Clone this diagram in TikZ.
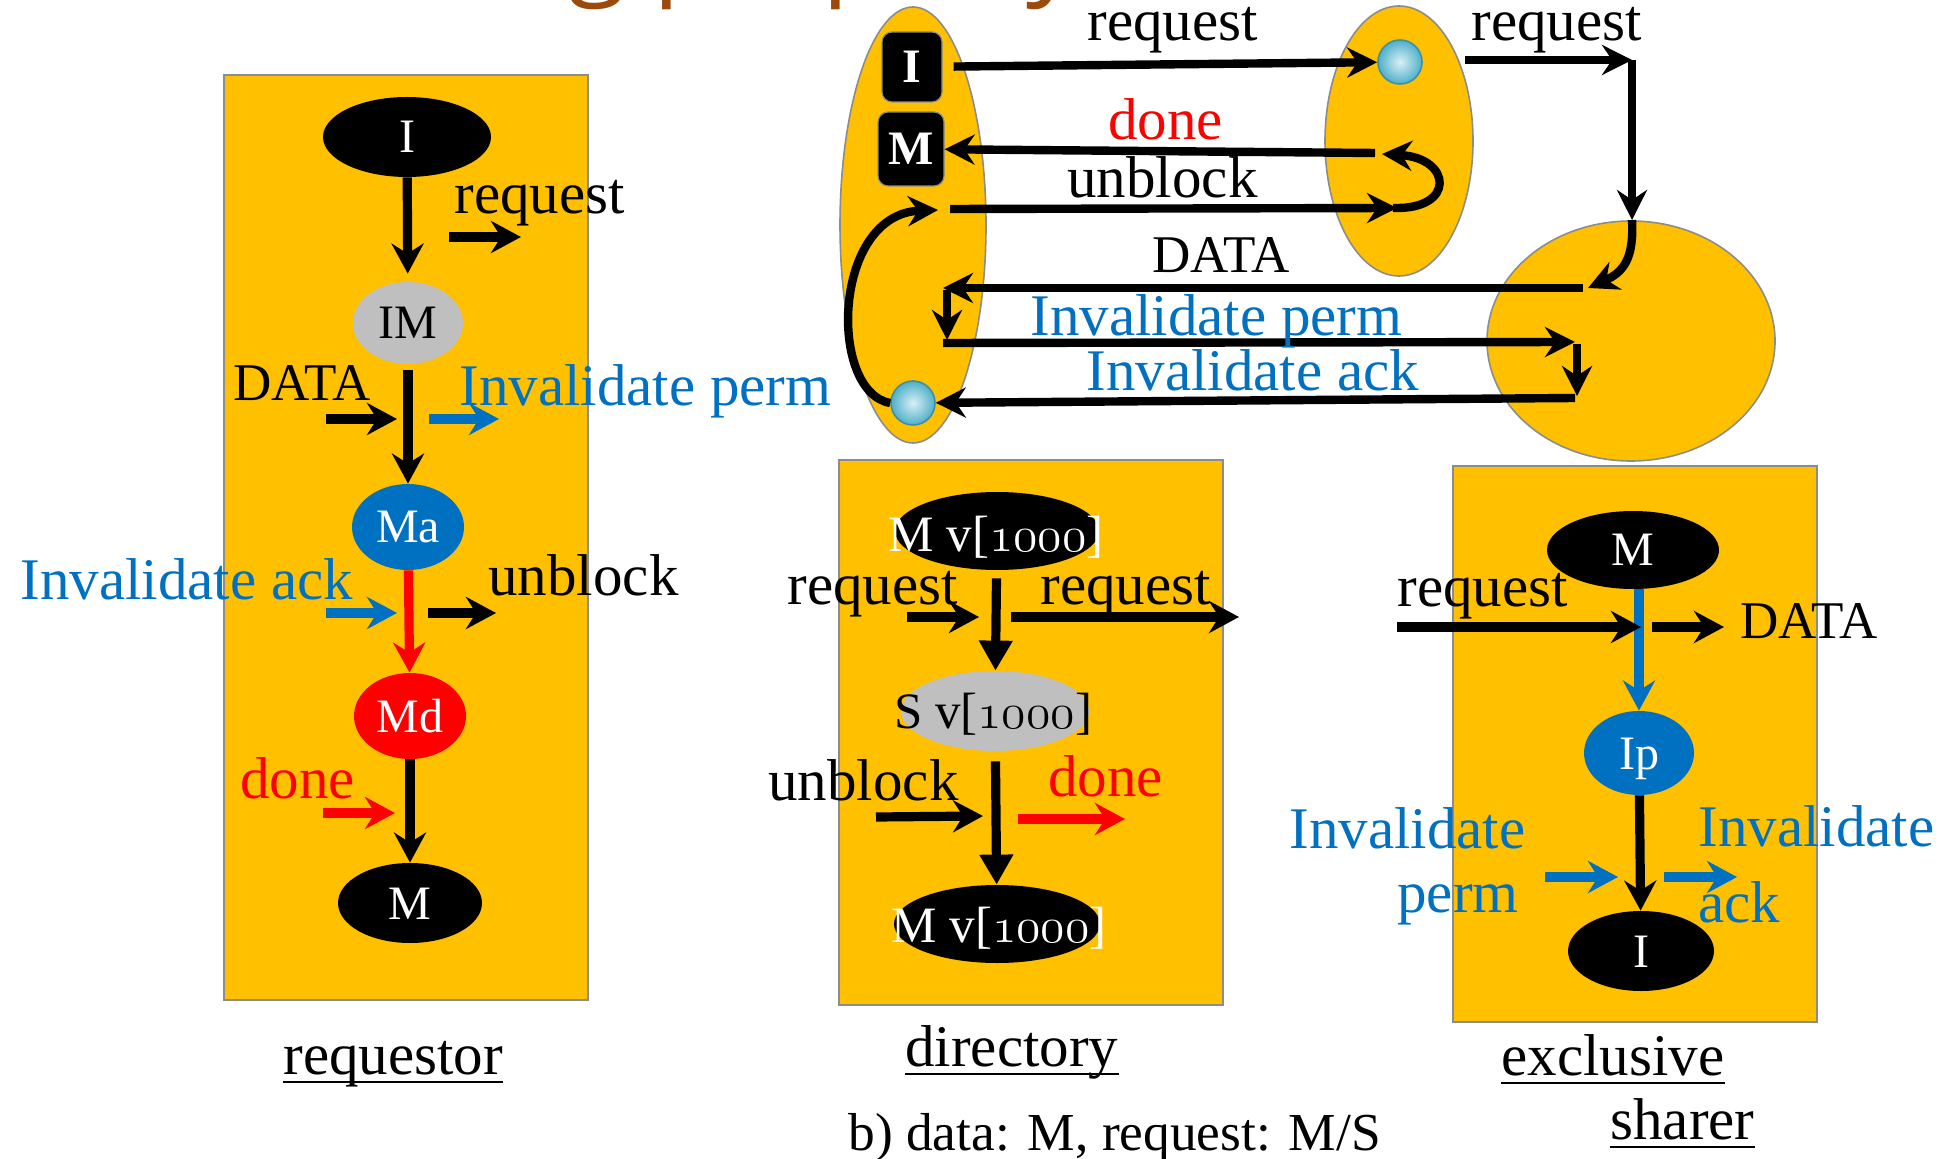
\documentclass[tikz,border=0pt]{standalone}
\usepackage{fontspec}
\setmainfont{Liberation Serif}
\newfontfamily\headfont{Open Sans}
\usetikzlibrary{arrows.meta,shapes.geometric,calc}

\definecolor{gold}{HTML}{FFC000}
\definecolor{msgblue}{HTML}{0070C0}
\definecolor{msgred}{HTML}{FF0000}
\definecolor{stategray}{HTML}{BFBFBF}
\definecolor{edgegray}{HTML}{8C8C8C}
\definecolor{titlebrown}{HTML}{9C4A0C}
\definecolor{balllight}{HTML}{D8F0F6}
\definecolor{balldark}{HTML}{4FAFC8}
\definecolor{ballrim}{HTML}{3D8FA8}

% old-style digits for the version numbers
\newcommand\vnum{v[$\mathnormal{1000}$]}

\tikzset{
  panel/.style={rectangle, fill=gold, draw=edgegray, line width=0.8pt, inner sep=0, anchor=north west},
  blob/.style={ellipse, fill=gold, draw=edgegray, line width=0.8pt, inner sep=0},
  st/.style={ellipse, inner sep=0, font=\fontsize{24}{24}\selectfont, text height=16pt, text depth=0pt},
  sttxt/.style={inner sep=0, anchor=base, font=\fontsize{25.5}{26}\selectfont},
  lbl/.style={inner sep=0, anchor=base west, font=\fontsize{29.5}{30}\selectfont},
  caps/.style={inner sep=0, anchor=base west, font=\fontsize{26.5}{27}\selectfont},
  flow/.style={line width=4.6pt, -{Stealth[length=15pt,width=16pt,inset=5pt]}},
  flowt/.style={line width=4.6pt, -{Triangle[length=15pt,width=16pt]}},
  wire/.style={line width=4.2pt, -{Stealth[length=15pt,width=15pt,inset=5pt]}},
  tag/.style={rectangle, fill=black, draw=edgegray, line width=0.6pt, rounded corners=5pt,
    inner sep=0, text=white, font=\bfseries\fontsize{24}{24}\selectfont},
  ball/.style={circle, minimum size=22pt, inner sep=0, draw=ballrim, line width=0.8pt,
    inner color=balllight, outer color=balldark},
  uline/.style={line width=1.2pt}
}

\begin{document}
\begin{tikzpicture}[x=0.5pt,y=-0.5pt]
\useasboundingbox (0,0) rectangle (1946,1159);

% remnant of the heading above
\node[inner sep=0, anchor=base west, text=titlebrown, font=\headfont\fontsize{52.7}{56}\selectfont] (heading) at (568,-15) {g property};

% ================= requestor =================
\node[panel, minimum width=182pt, minimum height=462.5pt] (reqPanel) at (223,74) {};
\node[st, fill=black, text=white, minimum width=84pt, minimum height=40pt] (rI) at (407,137) {I};
\node[st, fill=stategray, minimum width=55pt, minimum height=41pt] (rIM) at (408,323) {IM};
\node[st, fill=msgblue, text=white, minimum width=56pt, minimum height=43pt] (rMa) at (408,527) {Ma};
\node[st, fill=msgred, text=white, minimum width=56pt, minimum height=43pt] (rMd) at (410,716) {Md};
\node[st, fill=black, text=white, minimum width=72pt, minimum height=40pt] (rM) at (410,903) {M};

\draw[flow, shorten >=4pt] (rI) -- (rIM);
\draw[flow, shorten <=3pt] (rIM) -- (rMa);
\draw[flow, draw=msgred, fill=msgred] (rMa) -- (rMd);
\draw[flow] (rMd) -- (rM);

\coordinate (rqA) at (449,237); \coordinate (rqB) at (521,237);
\coordinate (rdA) at (326,419); \coordinate (rdB) at (397,419);
\coordinate (rpA) at (429,419); \coordinate (rpB) at (499,419);
\coordinate (raA) at (326,613); \coordinate (raB) at (397,613);
\coordinate (ruA) at (428,613); \coordinate (ruB) at (496,613);
\coordinate (rnA) at (323,813); \coordinate (rnB) at (395,813);
\draw[flow] (rqA) -- (rqB);
\draw[flow] (rdA) -- (rdB);
\draw[flow, draw=msgblue, fill=msgblue] (rpA) -- (rpB);
\draw[flow, draw=msgblue, fill=msgblue] (raA) -- (raB);
\draw[flow] (ruA) -- (ruB);
\draw[flow, draw=msgred, fill=msgred] (rnA) -- (rnB);

\node[lbl] (rqL) at (454,214) {request};
\node[caps] (rdL) at (233,401) {DATA};
\node[lbl, text=msgblue] (rpL) at (459,406) {Invalidate perm};
\node[lbl, text=msgblue] (raL) at (20,599) {Invalidate ack};
\node[lbl] (ruL) at (488,596) {unblock};
\node[lbl, text=msgred] (rnL) at (240,798) {done};
\node[lbl] (reqName) at (283,1074) {requestor};
\draw[uline] ($(reqName.base west)+(0,8)$) -- ($(reqName.base east)+(0,8)$);

% ================= directory =================
\node[panel, minimum width=192pt, minimum height=272.5pt] (dirPanel) at (838,459) {};
\node[st, fill=black, minimum width=102pt, minimum height=39pt] (dM1) at (997,531) {};
\node[st, fill=stategray, minimum width=94pt, minimum height=40pt] (dS) at (995,711) {};
\node[st, fill=black, minimum width=103pt, minimum height=39pt] (dM2) at (997,924) {};
\node[sttxt, text=white] (dM1t) at (996,552) {M \vnum};
\node[sttxt] (dSt) at (993,728) {S \vnum};
\node[sttxt, text=white] (dM2t) at (999,942) {M \vnum};

\draw[flowt, shorten <=4pt] (dM1) -- (dS);
\draw[flowt, shorten <=5pt] (dS) -- (dM2);

\coordinate (dqA) at (907,617); \coordinate (dqB) at (979,617);
\coordinate (dfA) at (1011,617); \coordinate (dfB) at (1239,617);
\coordinate (duA) at (876,817); \coordinate (duB) at (983,816);
\coordinate (dnA) at (1018,819); \coordinate (dnB) at (1125,819);
\draw[flow] (dqA) -- (dqB);
\draw[flow] (dfA) -- (dfB);
\draw[flow] (duA) -- (duB);
\draw[flow, draw=msgred, fill=msgred] (dnA) -- (dnB);

\node[lbl] (dqL) at (787,604) {request};
\node[lbl] (dfL) at (1040,604) {request};
\node[lbl] (duL) at (768,800) {unblock};
\node[lbl, text=msgred] (dnL) at (1048,796) {done};
\node[lbl] (dirName) at (905,1066) {directory};
\draw[uline] ($(dirName.base west)+(0,8)$) -- ($(dirName.base east)+(0,8)$);
\node[inner sep=0, anchor=base west, font=\fontsize{26.7}{27}\selectfont] (caseNote) at (848,1150) {b) data: M, request: M/S};

% ================= exclusive sharer =================
\node[panel, minimum width=182pt, minimum height=278pt] (shPanel) at (1452,465) {};
\node[st, fill=black, text=white, minimum width=86pt, minimum height=39pt] (eM) at (1633,550) {M};
\node[st, fill=msgblue, text=white, minimum width=55pt, minimum height=42pt] (eIp) at (1639,753) {Ip};
\node[st, fill=black, text=white, minimum width=73pt, minimum height=40pt] (eI) at (1641,951) {I};

\draw[flow, draw=msgblue, fill=msgblue] (eM.south -| eIp.north) -- (eIp.north);
\draw[flow] (eIp) -- (eI);

\coordinate (eqA) at (1397,627); \coordinate (eqB) at (1641,627);
\coordinate (edA) at (1652,627); \coordinate (edB) at (1724,627);
\coordinate (epA) at (1545,877); \coordinate (epB) at (1618,877);
\coordinate (eaA) at (1664,877); \coordinate (eaB) at (1737,877);
\draw[flow] (eqA) -- (eqB);
\draw[flow] (edA) -- (edB);
\draw[flow, draw=msgblue, fill=msgblue] (epA) -- (epB);
\draw[flow, draw=msgblue, fill=msgblue] (eaA) -- (eaB);

\node[lbl] (eqL) at (1397,606) {request};
\node[caps] (edL) at (1740,638) {DATA};
\node[lbl, text=msgblue] (epL1) at (1289,848) {Invalidate};
\node[lbl, text=msgblue] (epL2) at (1397,912) {perm};
\node[lbl, text=msgblue] (eaL1) at (1698,846) {Invalidate};
\node[lbl, text=msgblue] (eaL2) at (1698,922) {ack};
\node[lbl] (shName1) at (1501,1075) {exclusive};
\draw[uline] ($(shName1.base west)+(0,8)$) -- ($(shName1.base east)+(0,8)$);
\node[lbl] (shName2) at (1610,1139) {sharer};
\draw[uline] ($(shName2.base west)+(0,8)$) -- ($(shName2.base east)+(0,8)$);

% ================= message flow overview =================
\node[blob, minimum width=73pt, minimum height=218pt] (ovReq) at (913,225) {};
\node[blob, minimum width=74pt, minimum height=135pt] (ovDir) at (1399,141) {};
\node[blob, minimum width=144pt, minimum height=120pt] (ovSh) at (1631,341) {};

\node[tag, minimum width=30pt, minimum height=35pt] (tagI) at (912,67) {I};
\node[tag, minimum width=33pt, minimum height=37pt] (tagM) at (911,149) {M};
\node[ball] (ballD) at (1400,62) {};
\node[ball] (ballR) at (913,403) {};

% request to the directory
\draw[wire, shorten <=5.5pt] (tagI) -- (ballD);
% request forwarded to the sharer
\coordinate (fwA) at (1465,60); \coordinate (fwB) at (1632,60);
\coordinate (fwC) at (1632,220); \coordinate (fwD) at (1588,288);
\draw[wire] (fwA) -- (fwB);
\draw[wire] (fwB) -- (fwC);
\draw[wire] (fwC) .. controls (1634,258) and (1624,272) .. (fwD);
% DATA and invalidation chain
\coordinate (daA) at (1583,288); \coordinate (daB) at (943,288);
\coordinate (ipA) at (947,290); \coordinate (ipB) at (947,340);
\coordinate (ipC) at (943,343); \coordinate (ipD) at (1575,342);
\coordinate (iaA) at (1577,344); \coordinate (iaB) at (1577,396);
\coordinate (iaC) at (1575,398);
\draw[wire] (daA) -- (daB);
\draw[wire] (ipA) -- (ipB);
\draw[wire] (ipC) -- (ipD);
\draw[wire] (iaA) -- (iaB);
\draw[wire] (iaC) -- (ballR);
% loop back to unblock
\coordinate (ubA) at (938,210); \coordinate (ubB) at (950,209);
\coordinate (ubC) at (1397,208); \coordinate (ubD) at (1393,208);
\coordinate (ubE) at (1382,154);
\draw[wire] (ballR.west) .. controls (828,392) and (832,214) .. (ubA);
\draw[wire] (ubB) -- (ubC);
\draw[wire] (ubD) .. controls (1456,210) and (1452,158) .. (ubE);
% done back to the requestor
\coordinate (dnS) at (1375,153);
\draw[wire] (dnS) -- (tagM);

\node[lbl] (ovL1) at (1087,41) {request};
\node[lbl] (ovL2) at (1471,41) {request};
\node[lbl, text=msgred] (ovL3) at (1108,140) {done};
\node[lbl] (ovL4) at (1067,198) {unblock};
\node[caps] (ovL5) at (1152,273) {DATA};
\node[lbl, text=msgblue] (ovL6) at (1030,336) {Invalidate perm};
\node[lbl, text=msgblue] (ovL7) at (1086,391) {Invalidate ack};
\end{tikzpicture}
\end{document}
